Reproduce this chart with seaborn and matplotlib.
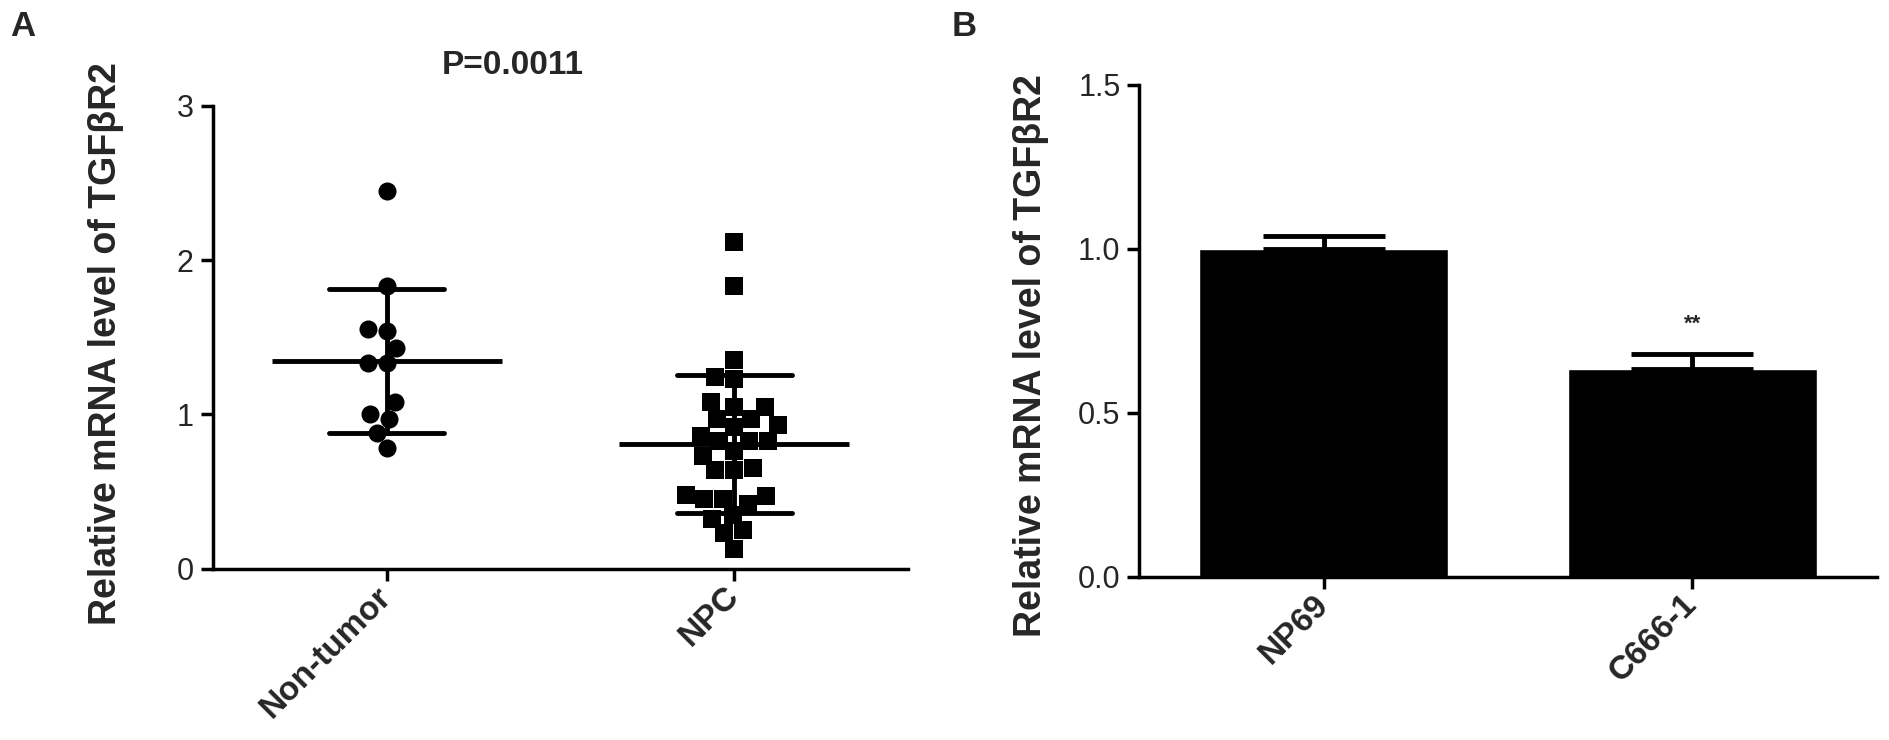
import numpy as np
import pandas as pd
import seaborn as sns
import matplotlib.pyplot as plt
from matplotlib.ticker import FormatStrFormatter

sns.set_style('ticks')
plt.rcParams['font.family'] = ['Liberation Sans', 'DejaVu Sans']

# panel A: relative TGFbR2 mRNA in tissue samples
groups = ['Non-tumor', 'NPC']
non_tumor = [2.45, 1.83, 1.55, 1.54, 1.43, 1.33, 1.33, 1.08, 1.00, 0.97,
             0.88, 0.78]
npc = [2.12, 1.83, 1.35, 1.24, 1.23, 1.08, 1.05, 1.05, 0.97, 0.93, 0.92,
       0.97, 0.86, 0.83, 0.83, 0.83, 0.76, 0.73, 0.65, 0.64, 0.64, 0.47,
       0.45, 0.42, 0.45, 0.48, 0.35, 0.32, 0.25, 0.23, 0.13]
p_text = 'P=0.0011'

# panel B: cell lines, mean and SEM
cell_lines = ['NP69', 'C666-1']
cell_means = [1.0, 0.635]
cell_sems = [0.04, 0.045]
sig_marks = ['', '**']

ylabel = 'Relative mRNA level of TGF\u03b2R2'
LW = 2.5
ERR_LW = 3.5

df_a = pd.DataFrame({
    'group': ['Non-tumor'] * len(non_tumor) + ['NPC'] * len(npc),
    'value': non_tumor + npc,
})
df_b = pd.DataFrame({'line': cell_lines, 'mean': cell_means,
                     'sem': cell_sems})


def style_axes(ax):
    sns.despine(ax=ax)
    for side in ['left', 'bottom']:
        ax.spines[side].set_linewidth(LW)
        ax.spines[side].set_color('black')
    ax.tick_params(axis='both', direction='out', length=8.6, width=LW,
                   color='black')
    ax.tick_params(axis='y', labelsize=22, pad=5)
    ax.tick_params(axis='x', pad=8)
    for lab in ax.get_xticklabels():
        lab.set_rotation(45)
        lab.set_ha('right')
        lab.set_va('center')
        lab.set_rotation_mode('anchor')
        lab.set_fontsize(24)
        lab.set_fontweight('bold')
    ax.set_xlabel('')
    ax.set_ylabel(ylabel, fontsize=27, fontweight='bold')
    ax.set_xlim(-0.5, 1.5)


fig = plt.figure(figsize=(18.9, 7.4), dpi=100)

# ---- panel A: scatter with mean and SD
ax1 = fig.add_axes([0.1125, 0.2316, 0.368, 0.6255])
sns.swarmplot(data=df_a[df_a['group'] == 'Non-tumor'], x='group', y='value',
              order=groups, marker='o', size=13, color='black', linewidth=0,
              ax=ax1)
sns.swarmplot(data=df_a[df_a['group'] == 'NPC'], x='group', y='value',
              order=groups, marker='s', size=13, color='black', linewidth=0,
              ax=ax1)
sns.pointplot(data=df_a, x='group', y='value', order=groups, errorbar='sd',
              capsize=0.33, linestyle='none', marker='_', markersize=166,
              markeredgewidth=ERR_LW, color='black',
              err_kws={'linewidth': ERR_LW}, ax=ax1)
ax1.set_ylim(0, 3)
ax1.set_yticks([0, 1, 2, 3])
style_axes(ax1)
ax1.yaxis.set_label_coords(-0.1268, 0.486)
ax1.text(0.431, 1.088, p_text, transform=ax1.transAxes, ha='center',
         va='center', fontsize=24, fontweight='bold')

# ---- panel B: bar chart with SEM
ax2 = fig.add_axes([0.6028, 0.2203, 0.3902, 0.6649])
sns.barplot(data=df_b, x='line', y='mean', color='black', saturation=1,
            width=0.676, ax=ax2)
ax2.errorbar(x=np.arange(len(cell_lines)), y=df_b['mean'],
             yerr=[np.zeros(len(cell_sems)), df_b['sem']], fmt='none',
             ecolor='black', elinewidth=ERR_LW, capsize=44, capthick=ERR_LW)
for i, mark in enumerate(sig_marks):
    if mark:
        ax2.text(i, cell_means[i] + cell_sems[i] + 0.09, mark, ha='center',
                 va='center', fontsize=16, fontweight='bold')
ax2.set_ylim(0, 1.5)
ax2.set_yticks([0, 0.5, 1.0, 1.5])
ax2.yaxis.set_major_formatter(FormatStrFormatter('%.1f'))
style_axes(ax2)
ax2.yaxis.set_label_coords(-0.122, 0.451)

fig.text(10 / 1890, 1 - 10 / 740, 'A', ha='left', va='top', fontsize=25,
         fontweight='bold')
fig.text(952 / 1890, 1 - 10 / 740, 'B', ha='left', va='top', fontsize=25,
         fontweight='bold')

fig.savefig('out.png', dpi=100)
